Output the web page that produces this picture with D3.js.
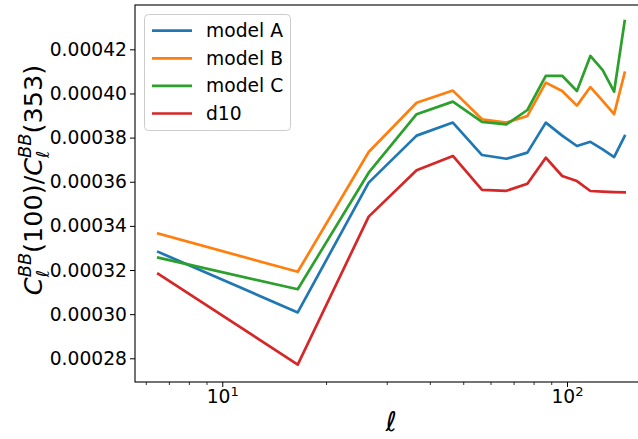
<!DOCTYPE html>
<html>
<head>
<meta charset="utf-8">
<script src="https://cdn.jsdelivr.net/npm/d3@7"></script>
<style>
    body { margin: 0; background: #ffffff; }
    text { font-family: "DejaVu Sans", sans-serif; fill: #000000; }
</style>
</head>
<body>
<div id="chart"></div>
<script>
// multipole bin centres
const ells = [6.5, 16.5, 26.5, 36.5, 46.5, 56.5, 66.5, 76.5, 86.5, 96.5, 106.5, 116.5, 126.5, 136.5, 146.5];

const modelA = [0.0003282, 0.0003008, 0.0003596, 0.0003809, 0.0003868, 0.0003721, 0.0003704, 0.0003732,
    0.0003868, 0.0003809, 0.0003762, 0.0003781, 0.0003747, 0.0003712, 0.0003807];
const modelB = [0.0003365, 0.0003192, 0.0003735, 0.0003958, 0.0004013, 0.0003883, 0.0003868, 0.0003898,
    0.0004049, 0.0004011, 0.0003945, 0.0004029, 0.0003966, 0.0003906, 0.0004094];
const modelC = [0.0003256, 0.0003113, 0.0003641, 0.0003906, 0.0003963, 0.0003871, 0.0003860, 0.0003925,
    0.0004080, 0.0004080, 0.0004011, 0.0004170, 0.0004106, 0.0004008, 0.0004328];
const d10 = [0.0003183, 0.0002771, 0.0003442, 0.0003652, 0.0003717, 0.0003563, 0.0003559, 0.0003591,
    0.0003709, 0.0003626, 0.0003603, 0.0003558, 0.0003555, 0.0003553, 0.0003552];

const seriesNames = ['model A', 'model B', 'model C', 'd10'];
const seriesColors = ['#1f77b4', '#ff7f0e', '#2ca02c', '#d62728'];

const yTicks = [0.00028, 0.00030, 0.00032, 0.00034, 0.00036, 0.00038, 0.00040, 0.00042];
const xMajor = [10, 100];
const xMinor = [6, 7, 8, 9, 20, 30, 40, 50, 60, 70, 80, 90];

const W = 638, H = 439;
const box = {left: 135, right: 648, top: 5, bottom: 382};
const tickFont = 18.7;

function draw_chart() {
    let svg = d3.select('#chart').append('svg')
        .attr('width', W)
        .attr('height', H);

    let x = d3.scaleLog()
        .domain([5.564, 171.2])
        .range([box.left, box.right]);
    let y = d3.scaleLinear()
        .domain([0.00026926, 0.00044008])
        .range([box.bottom, box.top]);

    draw_lines(svg, x, y);
    draw_axes(svg, x, y);
    draw_legend(svg);
    draw_labels(svg);
}

function draw_lines(svg, x, y) {
    let all = [modelA, modelB, modelC, d10];
    let line = d3.line()
        .x((d, i) => x(ells[i]))
        .y(d => y(d));

    svg.append('g')
        .selectAll('path')
        .data(all)
        .enter()
        .append('path')
        .attr('d', d => line(d))
        .attr('fill', 'none')
        .attr('stroke', (d, i) => seriesColors[i])
        .attr('stroke-width', 2.7)
        .attr('stroke-linejoin', 'round')
        .attr('stroke-linecap', 'square');
}

function draw_axes(svg, x, y) {
    // y axis
    let yAxis = d3.axisLeft(y)
        .tickValues(yTicks)
        .tickFormat(d3.format('.5f'))
        .tickSize(5)
        .tickPadding(3);
    let gy = svg.append('g')
        .attr('transform', `translate(${box.left},0)`)
        .call(yAxis);
    gy.select('.domain').remove();
    gy.selectAll('text')
        .style('font-size', tickFont + 'px')
        .style('font-family', '"DejaVu Sans"');

    // x axis: minor ticks
    svg.append('g')
        .selectAll('line')
        .data(xMinor)
        .enter()
        .append('line')
        .attr('x1', d => x(d)).attr('x2', d => x(d))
        .attr('y1', box.bottom).attr('y2', box.bottom + 3)
        .attr('stroke', '#000').attr('stroke-width', 0.8);

    let gx = svg.append('g');
    gx.selectAll('line')
        .data(xMajor)
        .enter()
        .append('line')
        .attr('x1', d => x(d)).attr('x2', d => x(d))
        .attr('y1', box.bottom).attr('y2', box.bottom + 5)
        .attr('stroke', '#000').attr('stroke-width', 1);

    let lab = gx.selectAll('text')
        .data(xMajor)
        .enter()
        .append('text')
        .attr('x', d => x(d))
        .attr('y', 403)
        .attr('text-anchor', 'middle')
        .style('font-size', tickFont + 'px');
    lab.append('tspan').text('10');
    lab.append('tspan')
        .attr('dy', -7)
        .style('font-size', (tickFont * 0.7) + 'px')
        .text(d => Math.round(Math.log10(d)));

    // spines
    svg.append('rect')
        .attr('x', box.left)
        .attr('y', box.top)
        .attr('width', box.right - box.left)
        .attr('height', box.bottom - box.top)
        .attr('fill', 'none')
        .attr('stroke', '#000')
        .attr('stroke-width', 1.1);
}

function draw_legend(svg) {
    let leg = svg.append('g');
    leg.append('rect')
        .attr('x', 144.5).attr('y', 14.5)
        .attr('width', 146).attr('height', 116)
        .attr('rx', 4)
        .attr('fill', '#ffffff')
        .attr('fill-opacity', 0.8)
        .attr('stroke', '#cccccc')
        .attr('stroke-width', 1);

    let rows = leg.selectAll('.row')
        .data(seriesNames)
        .enter()
        .append('g')
        .attr('class', 'row')
        .attr('transform', (d, i) => `translate(0,${30.7 + i * 27.6})`);
    rows.append('line')
        .attr('x1', 152).attr('x2', 192)
        .attr('stroke', (d, i) => seriesColors[i])
        .attr('stroke-width', 2.7);
    rows.append('text')
        .attr('x', 206)
        .attr('y', 6.5)
        .style('font-size', tickFont + 'px')
        .text(d => d);
}

// lay out a small piece of math text piece by piece along the baseline
function math_text(g, pieces, size) {
    let cursor = 0;
    let stackStart = 0, stackWidth = 0;
    pieces.forEach(p => {
        let t = g.append('text')
            .attr('y', (p.dy || 0) * size)
            .style('font-size', (size * (p.s || 1)) + 'px')
            .style('font-style', p.it ? 'italic' : 'normal')
            .text(p.t);
        let start = p.sub ? stackStart : cursor;
        t.attr('x', start);
        let w = t.node().getComputedTextLength();
        if (p.sup) {
            stackStart = cursor;
            stackWidth = w;
            cursor += w;
        } else if (p.sub) {
            cursor = stackStart + Math.max(stackWidth, w);
        } else {
            cursor += w;
        }
    });
    return cursor;
}

function draw_labels(svg) {
    let size = 25.5;
    let yl = svg.append('g');
    let inner = yl.append('g');
    let pieces = [
        {t: 'C', it: true},
        {t: 'BB', it: true, s: 0.7, dy: -0.42, sup: true},
        {t: 'ℓ', it: true, s: 0.7, dy: 0.28, sub: true},
        {t: '(100)/'},
        {t: 'C', it: true},
        {t: 'BB', it: true, s: 0.7, dy: -0.42, sup: true},
        {t: 'ℓ', it: true, s: 0.7, dy: 0.28, sub: true},
        {t: '(353)'}
    ];
    let w = math_text(inner, pieces, size);
    inner.attr('transform', `translate(${-w / 2},0)`);
    yl.attr('transform', 'translate(42,180) rotate(-90)');

    svg.append('text')
        .attr('x', 391)
        .attr('y', 431)
        .attr('text-anchor', 'middle')
        .style('font-size', '27px')
        .style('font-style', 'italic')
        .text('ℓ');
}

draw_chart();
</script>
</body>
</html>
